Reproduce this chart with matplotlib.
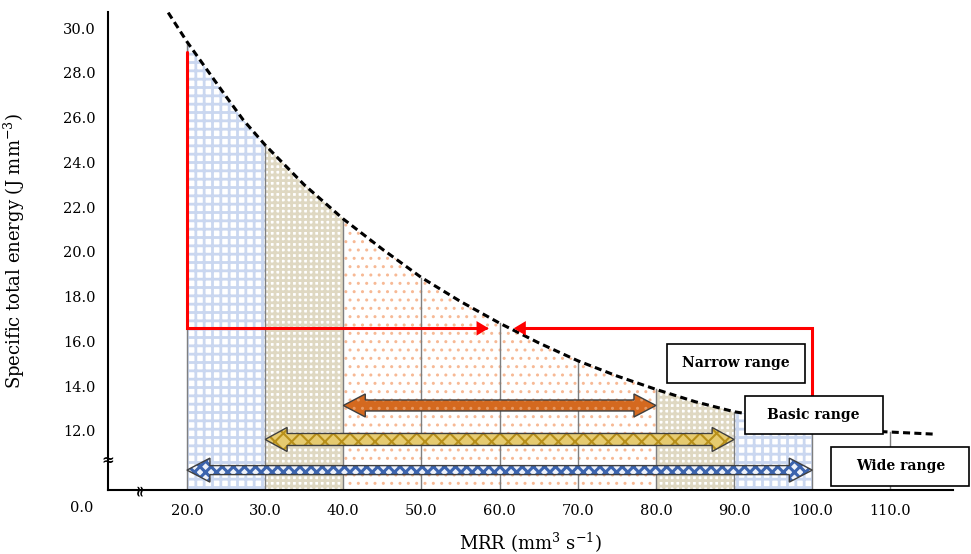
import numpy as np
import matplotlib
matplotlib.use('Agg')
from matplotlib import pyplot as plt
import matplotlib.patches as mpatches
from matplotlib.path import Path

# curve (MRR, specific total energy)
mrr = [17.6, 20, 25, 27.2, 30, 35, 40, 45, 50, 55, 60, 65, 70, 75, 80, 85, 90, 95, 100, 105, 108.9, 115.5]
energy = [30.70, 29.4, 26.95, 25.9, 24.78, 23.0, 21.47, 20.12, 18.85, 17.78, 16.81, 15.93,
          15.13, 14.45, 13.85, 13.3, 12.85, 12.57, 12.35, 12.12, 11.96, 11.85]

grid_x = [20, 30, 40, 50, 60, 70, 80, 90, 100, 110]
x_ticks = [20, 30, 40, 50, 60, 70, 80, 90, 100, 110]
y_ticks = [12, 14, 16, 18, 20, 22, 24, 26, 28, 30]

# shaded bands under the curve
band_start = [20, 30, 40, 80, 90]
band_end = [30, 40, 80, 90, 100]
band_kind = ['blue', 'beige', 'orange', 'beige', 'blue']

# double arrows: narrow, basic, wide
arrow_start = [40, 30, 20]
arrow_end = [80, 90, 100]
arrow_y = [13.13, 11.61, 10.24]

# red guide lines
red_left_x = [20, 20, 58.6]
red_left_y = [28.95, 16.58, 16.58]
red_right_x = [100, 100, 61.8]
red_right_y = [13.0, 16.58, 16.58]

box_text = ['Narrow range', 'Basic range', 'Wide range']

plt.rcParams['font.family'] = 'DejaVu Serif'
plt.rcParams['mathtext.fontset'] = 'dejavuserif'
plt.rcParams['hatch.linewidth'] = 2.0

W, H = 971, 554
fig = plt.figure(figsize=(W / 100, H / 100), dpi=100)
ax = fig.add_axes([108 / W, 1 - 490 / H, 845 / W, 478.3 / H])
ax.set_xlim(9.9, 118)
ax.set_ylim(9.35, 30.74)
ymin = 9.35

px_x = 1 / 7.819   # data units per pixel
px_y = 1 / 22.36

styles = {
    'blue': dict(fc='white', hc='#CAD7F0', hatch='++', hlw=2.0),
    'beige': dict(fc='white', hc='#DFD8C2', hatch='+++', hlw=2.0),
    'orange': dict(fc='white', hc='#F7B995', hatch='..', hlw=1.0),
}

mrr_a = np.array(mrr)
en_a = np.array(energy)
for a, b, k in zip(band_start, band_end, band_kind):
    inside = (mrr_a > a) & (mrr_a < b)
    xs = np.concatenate([[a], mrr_a[inside], [b]])
    ys = np.interp(xs, mrr_a, en_a)
    st = styles[k]
    with plt.rc_context({'hatch.linewidth': st['hlw']}):
        ax.fill_between(xs, ymin, ys, facecolor=st['fc'], edgecolor=st['hc'],
                        hatch=st['hatch'], linewidth=0, zorder=1)

for gx in grid_x:
    top = np.interp(gx, mrr_a, en_a)
    ax.plot([gx, gx], [ymin, top], color='#7F7F7F', lw=1.0, zorder=2)

ax.plot(mrr, energy, color='black', lw=2.2, dashes=(2.3, 1.4), zorder=3)

# red guide lines with arrow heads
for rx, ry in [(red_left_x, red_left_y), (red_right_x, red_right_y)]:
    p = Path(list(zip(rx, ry)))
    arr = mpatches.FancyArrowPatch(path=p, arrowstyle='-|>,head_length=0.5,head_width=0.3',
                                   mutation_scale=11, color='#FF0000', lw=2.2,
                                   shrinkA=0, shrinkB=0, joinstyle='miter', zorder=4)
    ax.add_patch(arr)


def block_arrow(x0, x1, y, body, head, hlen, fc, hc, hatch, hlw):
    bh = body / 2 * px_y
    hh = head / 2 * px_y
    hl = hlen * px_x
    verts = [(x0, y), (x0 + hl, y + hh), (x0 + hl, y + bh), (x1 - hl, y + bh),
             (x1 - hl, y + hh), (x1, y), (x1 - hl, y - hh), (x1 - hl, y - bh),
             (x0 + hl, y - bh), (x0 + hl, y - hh)]
    with plt.rc_context({'hatch.linewidth': hlw}):
        ax.add_patch(mpatches.Polygon(verts, closed=True, facecolor=fc, edgecolor=hc,
                                      hatch=hatch, lw=0, zorder=5))
    ax.add_patch(mpatches.Polygon(verts, closed=True, facecolor='none',
                                  edgecolor='#3F3F3F', lw=1.0, zorder=5.5))


arrow_look = [
    dict(body=11, head=23, hlen=22, fc='#D4691F', hc='#E89A63', hatch='..', hlw=1.0),
    dict(body=12, head=24, hlen=22, fc='#E6CB70', hc='#B8901A', hatch='xx', hlw=1.5),
    dict(body=9, head=24, hlen=23, fc='#EEF2FA', hc='#3C64AE', hatch='xxx', hlw=2.2),
]
for x0, x1, y, lk in zip(arrow_start, arrow_end, arrow_y, arrow_look):
    block_arrow(x0, x1, y, **lk)

# label boxes (lower left corner, width, height in data units)
box_pos = [(81.43, 14.15), (91.36, 11.84), (102.45, 9.54)]
box_w, box_h = 17.65, 1.73
for (bx, by), s in zip(box_pos, box_text):
    ax.add_patch(mpatches.Rectangle((bx, by), box_w, box_h, facecolor='white',
                                    edgecolor='black', lw=1.2, clip_on=False, zorder=8))
    ax.text(bx + box_w / 2, by + box_h / 2, s, ha='center', va='center',
            fontsize=10, fontweight='bold', zorder=9, clip_on=False)

for sp in ['top', 'right']:
    ax.spines[sp].set_visible(False)
for sp in ['left', 'bottom']:
    ax.spines[sp].set_linewidth(1.5)
    ax.spines[sp].set_zorder(6)

ax.set_xticks(x_ticks)
ax.set_xticklabels(['%.1f' % v for v in x_ticks])
ax.set_yticks(y_ticks)
ax.set_yticklabels(['%.1f' % v for v in y_ticks])
ax.tick_params(axis='both', length=0, labelsize=10.5)
ax.tick_params(axis='x', pad=10)
ax.tick_params(axis='y', pad=9)

# origin label and axis break marks
fig.text(81.7 / W, 1 - 508 / H, '0.0', ha='center', va='center', fontsize=10.5)
ax.text(9.9, 10.66, '≈', ha='center', va='center', fontsize=11, fontweight='bold', zorder=7, clip_on=False)
ax.text(14.0, 9.35, '≈', ha='center', va='center', fontsize=11, fontweight='bold', rotation=90, zorder=7, clip_on=False)

ax.set_xlabel(r'MRR (mm$^{3}$ s$^{-1}$)', fontsize=13)
ax.set_ylabel(r'Specific total energy (J mm$^{-3}$)', fontsize=13)
ax.xaxis.set_label_coords(0.5, -0.085)
ax.yaxis.set_label_coords(-0.096, 0.5)

fig.savefig('out.png', dpi=100)
